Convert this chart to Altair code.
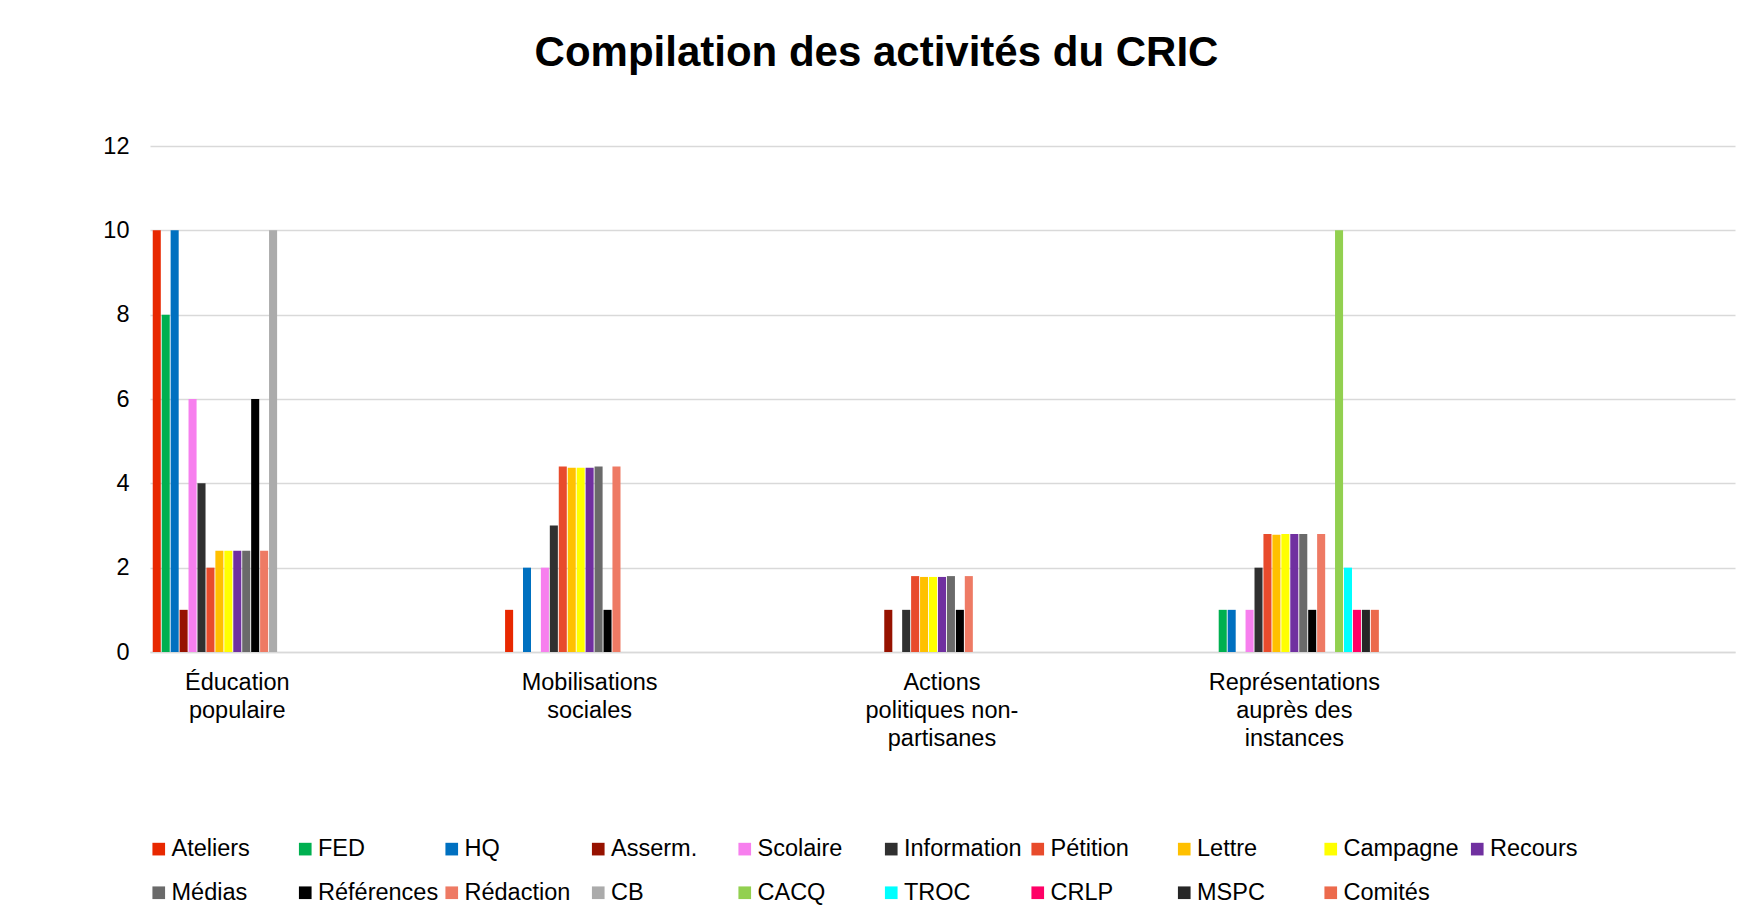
import altair as alt
import pandas as pd

categories = [
    "Éducation\npopulaire",
    "Mobilisations\nsociales",
    "Actions\npolitiques non-\npartisanes",
    "Représentations\nauprès des\ninstances",
]

series = ["Ateliers", "FED", "HQ", "Asserm.", "Scolaire", "Information", "Pétition",
          "Lettre", "Campagne", "Recours", "Médias", "Références", "Rédaction", "CB",
          "CACQ", "TROC", "CRLP", "MSPC", "Comités"]

colors = ["#E82800", "#00B050", "#0070C0", "#961200", "#F77FEE", "#303030", "#E84B2C",
          "#FFC000", "#FFFF00", "#7030A0", "#6A6A6A", "#000000", "#EE7A64", "#ABABAB",
          "#92D050", "#00FFFF", "#FF0066", "#262626", "#EC6A4C"]

education = [10, 8, 10, 1, 6, 4, 2, 2.4, 2.4, 2.4, 2.4, 6, 2.4, 10, 0, 0, 0, 0, 0]
mobilisations = [1, 0, 2, 0, 2, 3, 4.4, 4.37, 4.37, 4.37, 4.4, 1, 4.4, 0, 0, 0, 0, 0, 0]
actions = [0, 0, 0, 1, 0, 1, 1.8, 1.78, 1.78, 1.78, 1.8, 1, 1.8, 0, 0, 0, 0, 0, 0]
representations = [0, 1, 1, 0, 1, 2, 2.8, 2.78, 2.8, 2.8, 2.8, 1, 2.8, 0, 10, 2, 1, 1, 1]

rows = []
for cat, vals in zip(categories, [education, mobilisations, actions, representations]):
    for s, v in zip(series, vals):
        rows.append({"categorie": cat, "serie": s, "valeur": v})
df = pd.DataFrame(rows)

FONT = "Arial, Liberation Sans, sans-serif"
FS = 23.5

chart = alt.Chart(df).mark_bar().encode(
    x=alt.X("categorie:N", sort=categories,
            scale=alt.Scale(paddingInner=0.5175, paddingOuter=0.508, align=0.0064),
            axis=alt.Axis(title=None, labelAngle=0, ticks=False, domain=True,
                          domainColor="#D9D9D9", domainWidth=1.5, grid=False,
                          labelFontSize=FS, labelLineHeight=28, labelPadding=18,
                          labelColor="#000000", labelFont=FONT,
                          labelExpr="split(datum.value, '\\n')")),
    xOffset=alt.XOffset("serie:N", sort=series,
                        scale=alt.Scale(paddingInner=0.1, paddingOuter=0.05)),
    y=alt.Y("valeur:Q",
            scale=alt.Scale(domain=[0, 12], nice=False),
            axis=alt.Axis(title=None, values=[0, 2, 4, 6, 8, 10, 12], domain=False,
                          ticks=False, grid=True, gridColor="#D9D9D9", gridWidth=1.5,
                          labelFontSize=FS, labelPadding=21, labelColor="#000000",
                          labelFont=FONT)),
    color=alt.Color("serie:N", sort=series,
                    scale=alt.Scale(domain=series, range=colors),
                    legend=alt.Legend(title=None, orient="none", direction="horizontal",
                                      legendX=-3, legendY=691,
                                      columns=10, gridAlign="all", columnPadding=1.5,
                                      rowPadding=19, padding=0, symbolType="square",
                                      symbolSize=160, symbolStrokeWidth=0, labelOffset=1,
                                      labelFontSize=FS, labelFont=FONT,
                                      labelColor="#000000", labelLimit=300)),
).properties(
    width=1585,
    height=506,
    title=alt.TitleParams(text="Compilation des activités du CRIC", fontSize=42,
                          font=FONT, fontWeight="bold", color="#000000",
                          anchor="middle", frame="group", dx=-66, offset=59),
    autosize=alt.AutoSizeParams(type="none"),
    padding={"left": 142, "top": 138, "right": 7, "bottom": 262},
    background="#FFFFFF",
).configure_view(stroke=None)

chart.save("out.html", embed_options={"renderer": "svg", "actions": False})
